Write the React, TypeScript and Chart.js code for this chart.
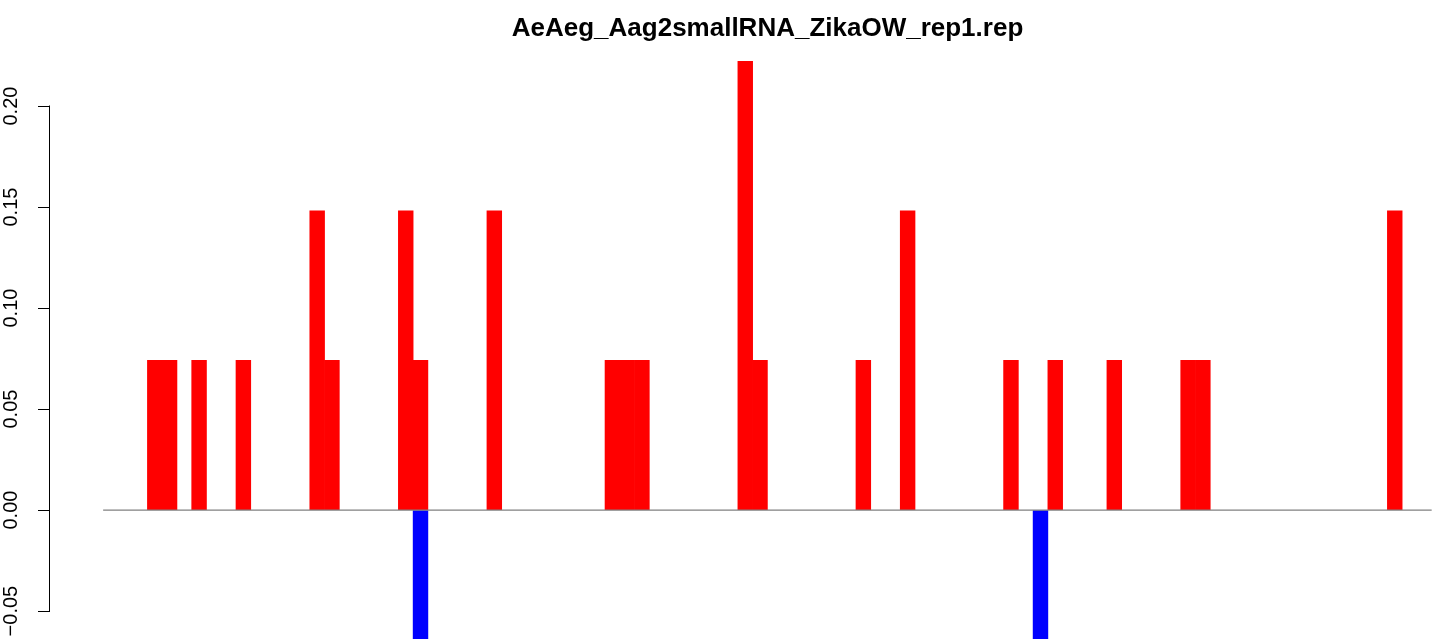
import React, { useEffect, useRef } from "react";
import { Chart, registerables } from "chart.js";

Chart.register(...registerables);

const chartTitle = "AeAeg_Aag2smallRNA_ZikaOW_rep1.rep";
const binCount = 90;
const senseBins = [3, 4, 6, 9, 14, 15, 20, 21, 26, 34, 35, 36, 43, 44, 51, 54, 61, 64, 68, 73, 74, 87];
const senseValues = [
  0.0741, 0.0741, 0.0741, 0.0741, 0.1481, 0.0741, 0.1481, 0.0741, 0.1481, 0.0741, 0.0741,
  0.0741, 0.2222, 0.0741, 0.0741, 0.1481, 0.0741, 0.0741, 0.0741, 0.0741, 0.0741, 0.1481,
];
const antisenseBins = [21, 63];
const antisenseValues = [-0.0741, -0.0741];
const yTickValues = [-0.05, 0, 0.05, 0.1, 0.15, 0.2];

const FONT = "'Liberation Sans', Arial, Helvetica, sans-serif";

const fmt = (v: number) => (v < 0 ? "\u2212" : "") + Math.abs(v).toFixed(2);

const axisLinePlugin = {
  id: "rAxisLine",
  afterDraw(chart: any) {
    const y = chart.scales.y;
    const ctx = chart.ctx;
    const top = y.getPixelForValue(yTickValues[yTickValues.length - 1]);
    const bottom = y.getPixelForValue(yTickValues[0]);
    const x = Math.round(chart.chartArea.left) - 0.5;
    ctx.save();
    ctx.strokeStyle = "#000";
    ctx.lineWidth = 1;
    ctx.beginPath();
    ctx.moveTo(x, Math.round(top) - 0.5);
    ctx.lineTo(x, Math.round(bottom) + 0.5);
    ctx.stroke();
    ctx.restore();
  },
};

export default function App() {
  const ref = useRef<HTMLCanvasElement | null>(null);

  useEffect(() => {
    if (!ref.current) return;
    const chart = new Chart(ref.current, {
      type: "bar",
      data: {
        datasets: [
          {
            type: "line",
            data: [
              { x: -0.5, y: 0 },
              { x: binCount - 0.5, y: 0 },
            ],
            borderColor: "#808080",
            borderWidth: 1.3,
            pointRadius: 0,
            order: 0,
          } as any,
          {
            type: "bar",
            data: senseBins.map((b, i) => ({ x: b, y: senseValues[i] })),
            backgroundColor: "#FF0000",
            borderWidth: 0,
            barPercentage: 1,
            categoryPercentage: 1,
            grouped: false,
            order: 1,
          } as any,
          {
            type: "bar",
            data: antisenseBins.map((b, i) => ({ x: b, y: antisenseValues[i] })),
            backgroundColor: "#0000FF",
            borderWidth: 0,
            barPercentage: 1,
            categoryPercentage: 1,
            grouped: false,
            order: 1,
          } as any,
        ],
      },
      options: {
        responsive: false,
        animation: false,
        devicePixelRatio: 1,
        layout: { padding: { left: 0, right: 0, top: 0, bottom: 0 } },
        plugins: {
          legend: { display: false },
          tooltip: { enabled: false },
          title: {
            display: true,
            text: chartTitle,
            color: "#000",
            font: { family: FONT, size: 26, weight: "bold", lineHeight: 0.8 },
            padding: { top: 18, bottom: 0 },
          },
        },
        scales: {
          x: {
            type: "linear",
            display: false,
            offset: false,
            grid: { offset: false },
            min: -4.1,
            max: 96.5,
          },
          y: {
            type: "linear",
            position: "left",
            min: -0.0861,
            max: 0.2333,
            border: { display: false },
            grid: { drawOnChartArea: false, drawTicks: true, tickLength: 12, color: "#000", lineWidth: 1 },
            ticks: {
              autoSkip: false,
              minRotation: 90,
              maxRotation: 90,
              crossAlign: "center",
              padding: 1,
              color: "#000",
              font: { family: FONT, size: 20 },
              callback: (v: any) => fmt(Number(v)),
            },
            afterBuildTicks: (s: any) => {
              s.ticks = yTickValues.map((v) => ({ value: v }));
            },
            afterFit: (s: any) => {
              s.width = 50;
              s.paddingTop = 0;
              s.paddingBottom = 0;
            },
          },
        },
      } as any,
      plugins: [axisLinePlugin],
    });
    return () => chart.destroy();
  }, []);

  return (
    <div
      style={{
        position: "fixed",
        left: 0,
        top: 0,
        width: 1439,
        height: 639,
        overflow: "hidden",
        background: "#fff",
      }}
    >
      <canvas ref={ref} width={1535} height={684} style={{ display: "block" }} />
    </div>
  );
}
